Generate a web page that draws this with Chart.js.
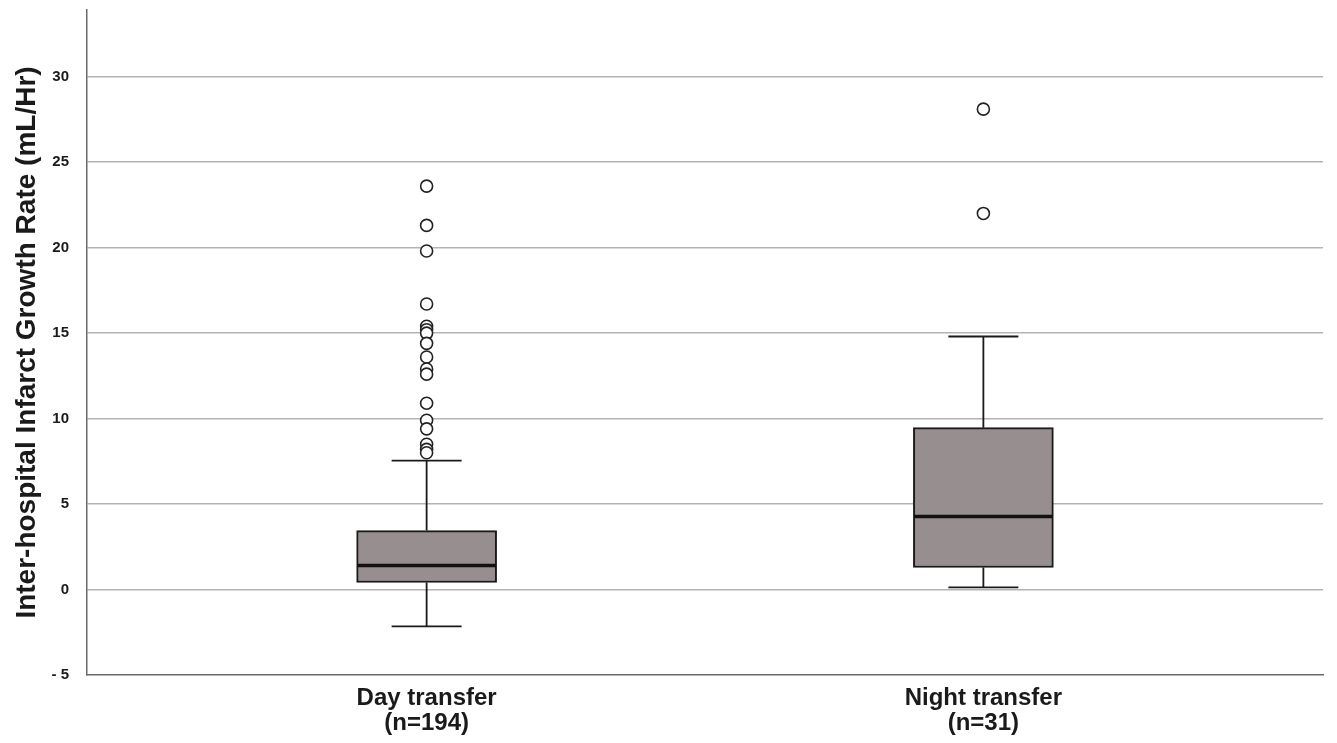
<!DOCTYPE html>
<html>
<head>
<meta charset="utf-8">
<script src="https://cdn.jsdelivr.net/npm/chart.js@4/dist/chart.umd.min.js"></script>
<style>
  html, body { margin: 0; padding: 0; background: #fff; }
  #wrap { width: 1337px; height: 743px; }
</style>
</head>
<body>
<div id="wrap"><canvas id="boxChart"></canvas></div>
<script>
// groups and box statistics
var groups = ['Day transfer', 'Night transfer'];
var groupN = ['(n=194)', '(n=31)'];
var whiskerLow = [-2.16, 0.12];
var q1 = [0.41, 1.29];
var median = [1.40, 4.27];
var q3 = [3.45, 9.47];
var whiskerHigh = [7.54, 14.8];

// outliers
var dayOutliers = [23.6, 21.3, 19.8, 16.7, 15.4, 15.2, 15.0, 14.4, 13.6, 12.9, 12.6, 10.9, 9.9, 9.4, 8.5, 8.2, 8.0];
var nightOutliers = [28.1, 22.0];

var yTicks = [-5, 0, 5, 10, 15, 20, 25, 30];

var ctx = document.getElementById('boxChart').getContext('2d');

// whiskers and median lines drawn through the chart scales
var boxPlugin = {
  id: 'boxParts',
  beforeDatasetsDraw: function(chart) {
    var x = chart.scales.x, y = chart.scales.y, c = chart.ctx;
    c.save();
    c.strokeStyle = '#1a1a1a';
    c.lineWidth = 1.8;
    for (var i = 0; i < groups.length; i++) {
      var px = x.getPixelForValue(i);
      c.beginPath();
      c.moveTo(px, y.getPixelForValue(q3[i]));
      c.lineTo(px, y.getPixelForValue(whiskerHigh[i]));
      c.moveTo(px, y.getPixelForValue(q1[i]));
      c.lineTo(px, y.getPixelForValue(whiskerLow[i]));
      c.moveTo(px - 35, y.getPixelForValue(whiskerHigh[i]));
      c.lineTo(px + 35, y.getPixelForValue(whiskerHigh[i]));
      c.moveTo(px - 35, y.getPixelForValue(whiskerLow[i]));
      c.lineTo(px + 35, y.getPixelForValue(whiskerLow[i]));
      c.stroke();
    }
    c.restore();
  },
  afterDatasetDraw: function(chart, args) {
    if (args.index !== 0) return;
    var x = chart.scales.x, y = chart.scales.y, c = chart.ctx;
    c.save();
    c.strokeStyle = '#111';
    c.lineWidth = 3.5;
    for (var i = 0; i < groups.length; i++) {
      var px = x.getPixelForValue(i);
      var py = y.getPixelForValue(median[i]);
      c.beginPath();
      c.moveTo(px - 69, py);
      c.lineTo(px + 69, py);
      c.stroke();
    }
    c.restore();
  }
};

var data = {
  datasets: [
    {
      type: 'bar',
      label: 'IQR',
      data: groups.map(function(g, i) { return {x: i, y: [q1[i], q3[i]]}; }),
      backgroundColor: '#978f8f',
      borderColor: '#1a1a1a',
      borderWidth: 2,
      borderSkipped: false,
      barThickness: 140,
      order: 2
    },
    {
      type: 'line',
      label: 'Outliers',
      data: dayOutliers.map(function(v) { return {x: 0, y: v}; })
        .concat(nightOutliers.map(function(v) { return {x: 1, y: v}; })),
      showLine: false,
      pointRadius: 6,
      pointHoverRadius: 6,
      pointBackgroundColor: '#fff',
      pointBorderColor: '#222',
      pointBorderWidth: 1.6,
      order: 1
    }
  ]
};

var options = {
  responsive: true,
  maintainAspectRatio: false,
  animation: false,
  layout: { autoPadding: false, padding: { top: 10, right: 14, left: 0, bottom: 0 } },
  plugins: {
    legend: { display: false },
    tooltip: { enabled: false }
  },
  scales: {
    x: {
      type: 'linear',
      offset: false,
      min: -0.61,
      max: 1.61,
      afterBuildTicks: function(axis) {
        axis.ticks = groups.map(function(g, i) { return {value: i}; });
      },
      afterFit: function(axis) {
        axis.height = 68;
        axis.paddingLeft = 0;
        axis.paddingRight = 0;
      },
      ticks: {
        color: '#1a1a1a',
        padding: 11,
        maxRotation: 0,
        font: { family: "'Liberation Sans Narrow', 'Liberation Sans', Arial, sans-serif", size: 24, weight: 'bold', lineHeight: 1.05 },
        callback: function(v) { return [groups[v], groupN[v]]; }
      },
      grid: { color: 'rgba(0,0,0,0)', drawTicks: false },
      border: { display: true, color: '#6a6a6a', width: 1.5 }
    },
    y: {
      min: -5,
      max: 33.9,
      afterBuildTicks: function(axis) {
        axis.ticks = yTicks.map(function(v) { return {value: v}; });
      },
      afterFit: function(axis) {
        axis.width = 87;
        axis.paddingTop = 0;
        axis.paddingBottom = 0;
      },
      ticks: {
        color: '#1a1a1a',
        padding: 18,
        font: { family: "'Liberation Sans', Arial, sans-serif", size: 15, weight: 'bold' },
        callback: function(v) { return v < 0 ? '- ' + Math.abs(v) : String(v); }
      },
      grid: {
        color: function(c) { return c.tick && c.tick.value === -5 ? 'rgba(0,0,0,0)' : '#b3b3b3'; },
        lineWidth: 1.5,
        drawTicks: false
      },
      border: { display: true, color: '#6a6a6a', width: 1.5 },
      title: {
        display: true,
        text: 'Inter-hospital Infarct Growth Rate (mL/Hr)',
        color: '#1a1a1a',
        font: { family: "'Liberation Sans', Arial, sans-serif", size: 28, weight: 'bold' },
        padding: { top: 10, bottom: 0 }
      }
    }
  }
};

var boxChart = new Chart(ctx, {
  type: 'bar',
  data: data,
  options: options,
  plugins: [boxPlugin]
});
</script>
</body>
</html>
